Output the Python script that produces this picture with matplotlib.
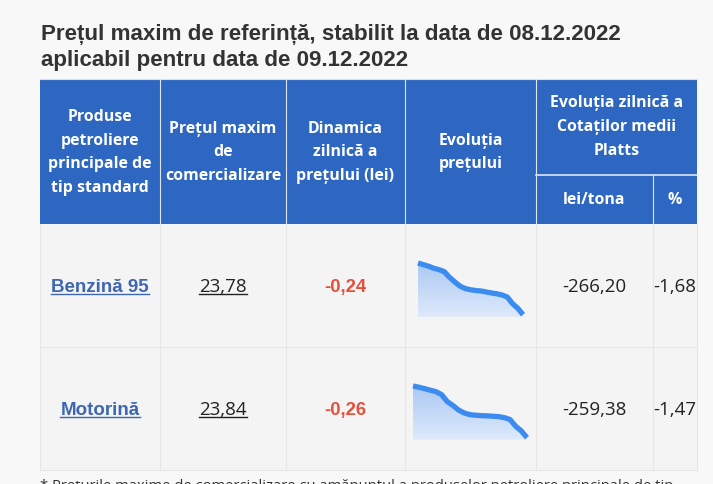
import numpy as np
import matplotlib.pyplot as plt
from matplotlib.patches import Rectangle, Polygon
from matplotlib.colors import LinearSegmentedColormap

# ---- data ----
title_lines = ["Prețul maxim de referință, stabilit la data de 08.12.2022",
               "aplicabil pentru data de 09.12.2022"]
header_main = ["Produse\npetroliere\nprincipale de\ntip standard",
               "Prețul maxim\nde\ncomercializare",
               "Dinamica\nzilnică a\nprețului (lei)",
               "Evoluția\nprețului",
               "Evoluția zilnică a\nCotaților medii\nPlatts"]
header_sub = ["lei/tona", "%"]
products = ["Benzină 95", "Motorină"]
prices = ["23,78", "23,84"]
dynamics = ["-0,24", "-0,26"]
platts_lei = ["-266,20", "-259,38"]
platts_pct = ["-1,68", "-1,47"]
history_benzina = [26.35, 26.27, 26.19, 26.09, 26.02, 25.92, 25.64, 25.41, 25.20, 25.08, 25.02,
                   24.98, 24.96, 24.91, 24.86, 24.82, 24.76, 24.66, 24.33, 24.10, 23.78]
history_motorina = [26.44, 26.38, 26.31, 26.23, 26.16, 26.01, 25.66, 25.46, 25.23, 25.08, 25.00,
                    24.97, 24.95, 24.94, 24.92, 24.90, 24.85, 24.76, 24.42, 24.18, 23.84]
footnote = "* Prețurile maxime de comercializare cu amănuntul a produselor petroliere principale de tip"

# ---- layout (pixels) ----
W, H = 713, 484
cols = [40, 160, 286, 405, 536, 653, 697]
head_top, head_mid, head_bot = 79, 175, 224
rows = [224, 347, 470]
spark_boxes = [(418, 523, 263, 316.7), (413, 527, 386, 439.7)]

BLUE = "#2e67c2"
BG = "#f8f8f8"
CELL = "#f4f4f4"
GRID = "#e6e6e6"

fig = plt.figure(figsize=(W / 100, H / 100), dpi=100)
fig.patch.set_facecolor(BG)
ax = fig.add_axes([0, 0, 1, 1])
ax.set_xlim(0, W)
ax.set_ylim(H, 0)
ax.axis("off")

# title
for i, line in enumerate(title_lines):
    ax.text(41, 40 + 26 * i, line, family="Liberation Sans", weight="bold",
            fontsize=16.1, color="#333333", ha="left", va="baseline")

# header block
ax.add_patch(Rectangle((cols[0], head_top), cols[-1] - cols[0], head_bot - head_top,
                       facecolor=BLUE, edgecolor="none"))
ax.plot([cols[0], cols[-1]], [head_top, head_top], color="#dddddd", lw=0.8)
for x in cols[1:5]:
    ax.plot([x, x], [head_top, head_bot], color="#dfe6f2", lw=0.8)
ax.plot([cols[5], cols[5]], [head_mid, head_bot], color="#dfe6f2", lw=0.8)
ax.plot([cols[4], cols[6]], [head_mid, head_mid], color="#dfe6f2", lw=1.2)

hfont = dict(family="Open Sans", weight="bold", fontsize=11.4, color="white",
             ha="center", va="center", linespacing=1.66)
for i, txt in enumerate(header_main[:4]):
    ax.text((cols[i] + cols[i + 1]) / 2, (head_top + head_bot) / 2 + 1, txt, **hfont)
ax.text((cols[4] + cols[6]) / 2, (head_top + head_mid) / 2, header_main[4], **hfont)
for i, txt in enumerate(header_sub):
    ax.text((cols[4 + i] + cols[5 + i]) / 2, (head_mid + head_bot) / 2, txt, **hfont)

# body cells
ax.add_patch(Rectangle((cols[0], rows[0]), cols[-1] - cols[0], rows[-1] - rows[0],
                       facecolor=CELL, edgecolor="none"))
for x in cols:
    ax.plot([x, x], [rows[0], rows[-1]], color=GRID, lw=0.8)
for y in rows[1:]:
    ax.plot([cols[0], cols[-1]], [y, y], color=GRID, lw=0.8)

underlined = []
for r in range(2):
    base = (rows[r] + rows[r + 1]) / 2 + 6.5
    t = ax.text((cols[0] + cols[1]) / 2, base, products[r], family="Liberation Sans",
                weight="bold", fontsize=13.5, color="#3d67b1", ha="center", va="baseline")
    underlined.append((t, "#3d67b1"))
    t = ax.text((cols[1] + cols[2]) / 2, base, prices[r], family="Open Sans",
                fontsize=13.5, color="#222222", ha="center", va="baseline")
    underlined.append((t, "#222222"))
    ax.text((cols[2] + cols[3]) / 2, base, dynamics[r], family="Liberation Sans",
            weight="bold", fontsize=13.3, color="#e4503c", ha="center", va="baseline")
    ax.text((cols[4] + cols[5]) / 2, base, platts_lei[r], family="Open Sans",
            fontsize=13.5, color="#222222", ha="center", va="baseline")
    ax.text((cols[5] + cols[6]) / 2, base, platts_pct[r], family="Open Sans",
            fontsize=13.5, color="#222222", ha="center", va="baseline")

# footnote, cut by the lower edge as in the source screenshot
ax.text(cols[0], 479, footnote, family="Open Sans", fontsize=10.6, color="#333333",
        ha="left", va="top")

# sparklines
cmap = LinearSegmentedColormap.from_list("g", ["#aac9f4", "#dfeafb"])
for hist, (x0, x1, y0, y1) in zip([history_benzina, history_motorina], spark_boxes):
    sax = fig.add_axes([x0 / W, 1 - y1 / H, (x1 - x0) / W, (y1 - y0) / H])
    vals = np.array(hist)
    xs = np.arange(len(vals))
    lo, hi = vals.min() - 0.1, vals.max()
    sax.set_xlim(0, len(vals) - 1)
    sax.set_ylim(lo, hi)
    sax.axis("off")
    grad = np.linspace(0, 1, 100).reshape(-1, 1)
    im = sax.imshow(grad, extent=[0, len(vals) - 1, lo, hi], origin="upper",
                    aspect="auto", cmap=cmap)
    poly = Polygon([(0, lo)] + list(zip(xs, vals)) + [(len(vals) - 1, lo)], closed=True,
                   facecolor="none", edgecolor="none")
    sax.add_patch(poly)
    im.set_clip_path(poly)
    sax.plot(xs, vals, color="#3c8cf0", lw=3.8, solid_capstyle="butt",
             solid_joinstyle="round", clip_on=False)

# underlines from the text extents
fig.canvas.draw()
renderer = fig.canvas.get_renderer()
inv = ax.transData.inverted()
for t, c in underlined:
    bb = t.get_window_extent(renderer)
    (xa, _), (xb, _) = inv.transform([(bb.x0, bb.y0), (bb.x1, bb.y0)])
    yb = t.get_position()[1] + 2.2
    ax.plot([xa, xb], [yb, yb], color=c, lw=1.0)

fig.savefig("out.png", dpi=100, facecolor=BG)
